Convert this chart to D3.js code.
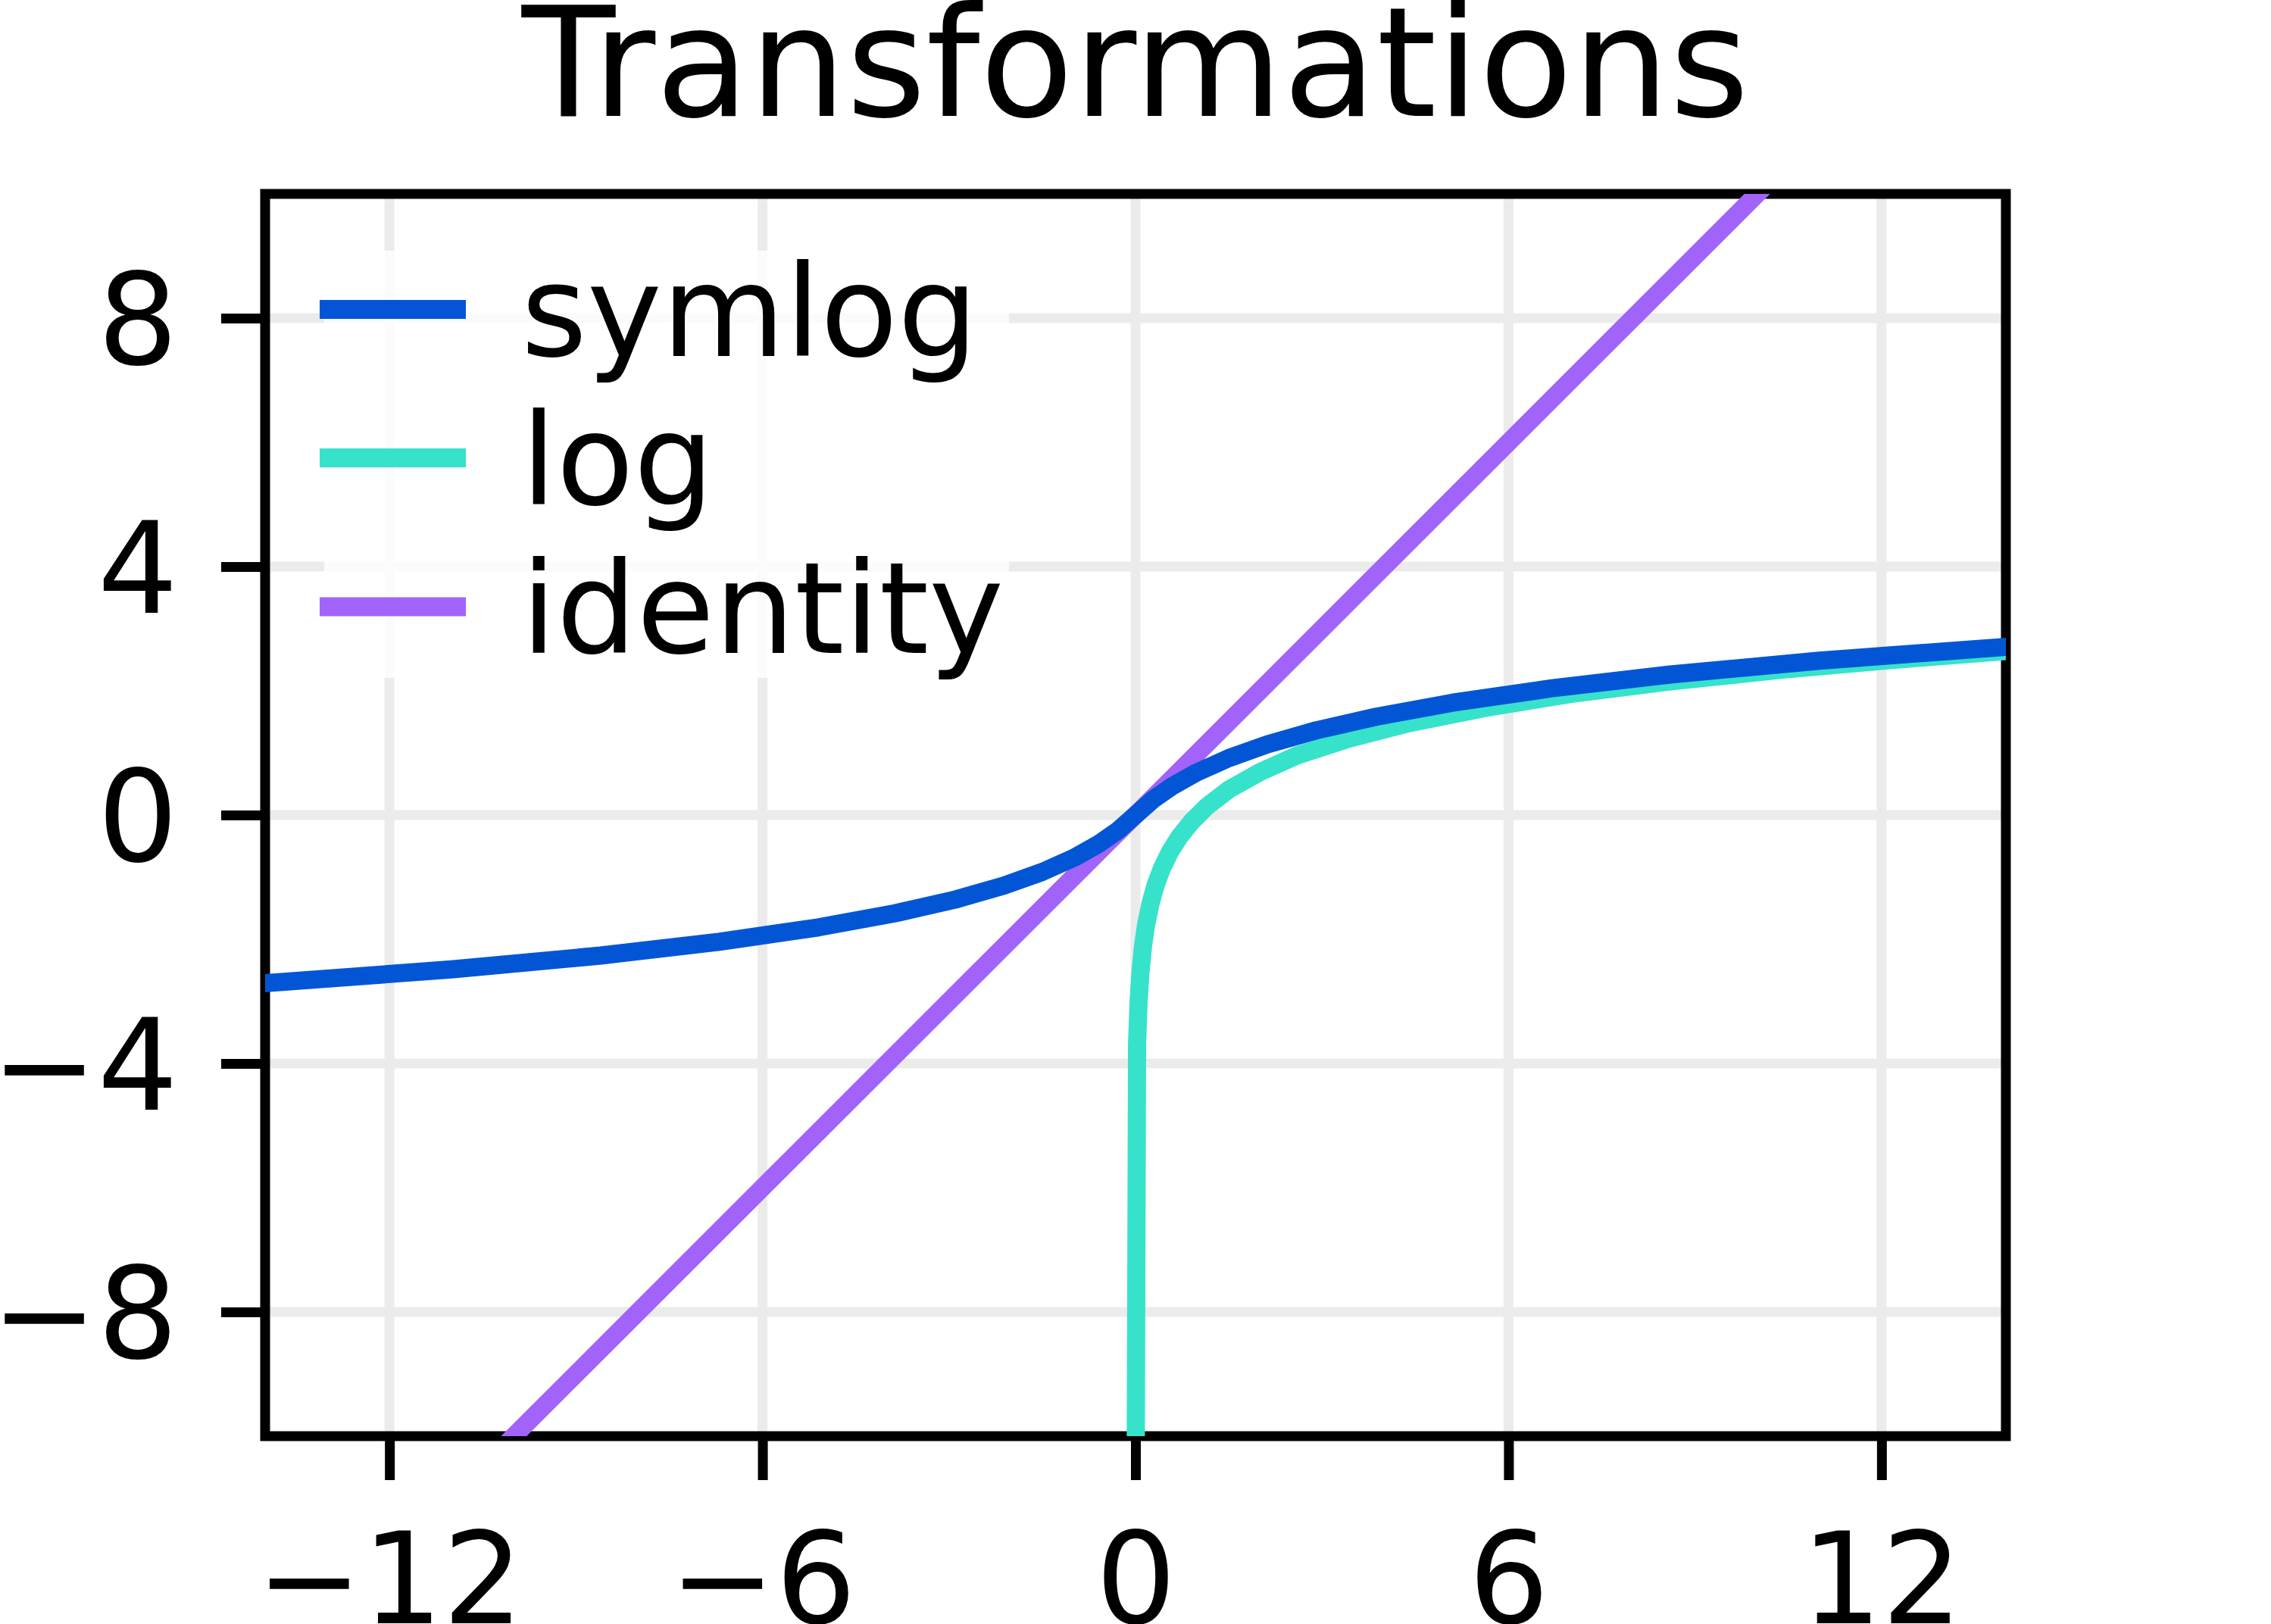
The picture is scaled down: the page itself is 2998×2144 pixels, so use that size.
<!DOCTYPE html>
<html>
<head>
<meta charset="utf-8">
<script src="https://cdn.jsdelivr.net/npm/d3@7"></script>
<style>
  html, body { margin: 0; padding: 0; background: #ffffff; }
  svg { display: block; }
  text { font-family: "DejaVu Sans", sans-serif; }
</style>
</head>
<body>
<script>
// ---- data ----
const title = "Transformations";
const xTicks = [-12, -6, 0, 6, 12];
const yTicks = [-8, -4, 0, 4, 8];
const seriesNames = ["symlog", "log", "identity"];
const seriesColors = ["#0256d6", "#37e2ca", "#a263fb"];

const symlogX = [-14, -11.0, -8.6, -6.7, -5.1, -3.87, -2.9, -2.12, -1.5, -0.99, -0.6, -0.28, 0,
                 0.28, 0.6, 0.99, 1.5, 2.12, 2.9, 3.87, 5.1, 6.7, 8.6, 11.0, 14];
const symlogY = [-2.708, -2.485, -2.262, -2.041, -1.808, -1.583, -1.361, -1.138, -0.916, -0.688, -0.470, -0.247, 0,
                 0.247, 0.470, 0.688, 0.916, 1.138, 1.361, 1.583, 1.808, 2.041, 2.262, 2.485, 2.708];

const logX = [0.00001, 0.025, 0.05, 0.08, 0.12, 0.17, 0.24, 0.32, 0.42, 0.55, 0.7, 0.9, 1.15,
              1.5, 2.0, 2.6, 3.4, 4.4, 5.6, 7.0, 8.6, 10.4, 12.2, 14];
const logY = [-11.51, -3.69, -3.0, -2.53, -2.12, -1.77, -1.43, -1.14, -0.87, -0.60, -0.36, -0.11, 0.14,
              0.41, 0.69, 0.96, 1.22, 1.48, 1.72, 1.95, 2.15, 2.34, 2.50, 2.64];

const identityX = [-14, 0, 14];
const identityY = [-14, 0, 14];

// ---- layout ----
const W = 2998, H = 2144;
const pLeft = 350, pRight = 2648, pTop = 256, pBottom = 1896;
const fontTick = 167, fontTitle = 202, fontLegend = 167;

const svg = d3.select("body").append("svg").attr("width", W).attr("height", H);

const x = d3.scaleLinear().domain([-14, 14]).range([pLeft, pRight]);
const y = d3.scaleLinear().domain([-10, 10]).range([pBottom, pTop]);

// grid
const grid = svg.append("g").attr("stroke", "#ebebeb").attr("stroke-width", 13);
grid.selectAll("line.vx").data(xTicks).join("line").attr("class", "vx")
  .attr("x1", d => x(d)).attr("x2", d => x(d)).attr("y1", pTop).attr("y2", pBottom);
grid.selectAll("line.hy").data(yTicks).join("line").attr("class", "hy")
  .attr("y1", d => y(d)).attr("y2", d => y(d)).attr("x1", pLeft).attr("x2", pRight);

// spines
svg.append("rect").attr("x", pLeft).attr("y", pTop).attr("width", pRight - pLeft).attr("height", pBottom - pTop)
  .attr("fill", "none").attr("stroke", "#000").attr("stroke-width", 13);

// axes
const fmt = d3.format("");
const yAxis = svg.append("g").attr("transform", `translate(${pLeft},0)`)
  .call(d3.axisLeft(y).tickValues(yTicks).tickSize(58).tickPadding(57).tickFormat(fmt));
const xAxis = svg.append("g").attr("transform", `translate(0,${pBottom})`)
  .call(d3.axisBottom(x).tickValues(xTicks).tickSize(58).tickPadding(70).tickFormat(fmt));
[xAxis, yAxis].forEach(a => {
  a.select(".domain").remove();
  a.attr("color", "#000");
  a.selectAll(".tick line").attr("stroke-width", 13);
  a.selectAll(".tick text").attr("font-size", fontTick).attr("font-family", "DejaVu Sans").attr("fill", "#000");
});
yAxis.selectAll(".tick text").attr("dy", "0.364em");

// clip
svg.append("clipPath").attr("id", "plotclip").append("rect")
  .attr("x", pLeft).attr("y", pTop).attr("width", pRight - pLeft).attr("height", pBottom - pTop);

const line = d3.line().x(d => x(d[0])).y(d => y(d[1]));
const series = [
  { name: "identity", xs: identityX, ys: identityY, color: seriesColors[2] },
  { name: "log", xs: logX, ys: logY, color: seriesColors[1] },
  { name: "symlog", xs: symlogX, ys: symlogY, color: seriesColors[0] }
];
const plot = svg.append("g").attr("clip-path", "url(#plotclip)");
series.forEach(s => {
  plot.append("path")
    .datum(s.xs.map((v, i) => [v, s.ys[i]]))
    .attr("d", line)
    .attr("fill", "none")
    .attr("stroke", s.color)
    .attr("stroke-width", 24)
    .attr("stroke-linejoin", "round")
    .attr("stroke-linecap", "square");
});

// legend
const leg = svg.append("g");
leg.append("rect").attr("x", 428).attr("y", 331).attr("width", 904).attr("height", 564)
  .attr("rx", 14).attr("fill", "#ffffff").attr("fill-opacity", 0.8);
const rowY = [408.5, 604.5, 801];
seriesNames.forEach((n, i) => {
  leg.append("line").attr("x1", 422).attr("x2", 615).attr("y1", rowY[i]).attr("y2", rowY[i])
    .attr("stroke", seriesColors[i]).attr("stroke-width", 25);
  leg.append("text").attr("x", 688).attr("y", rowY[i] + 61)
    .attr("font-size", fontLegend).attr("fill", "#000").text(n);
});

// title
svg.append("text").attr("x", (pLeft + pRight) / 2).attr("y", 153)
  .attr("text-anchor", "middle").attr("font-size", fontTitle).attr("fill", "#000").text(title);
</script>
</body>
</html>
